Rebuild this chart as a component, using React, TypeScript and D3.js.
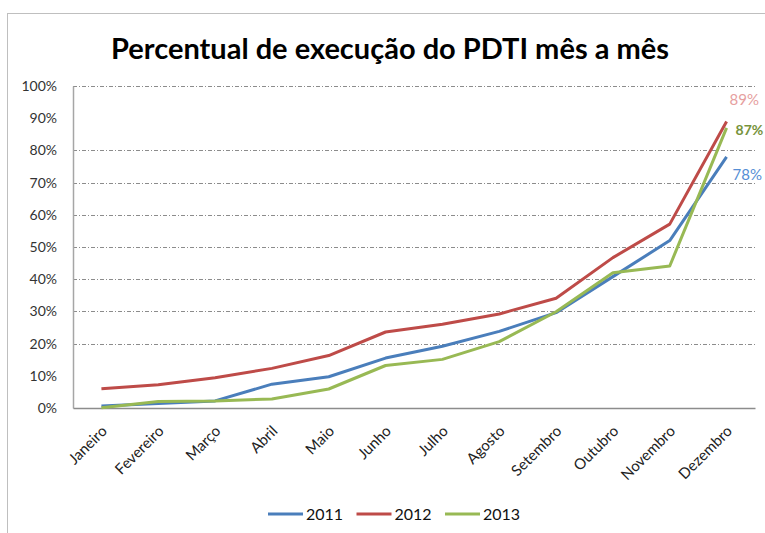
import { useRef, useEffect } from "react";
import * as d3 from "d3";

const months = [
  "Janeiro", "Fevereiro", "Março", "Abril", "Maio", "Junho",
  "Julho", "Agosto", "Setembro", "Outubro", "Novembro", "Dezembro",
];
const years = ["2011", "2012", "2013"];
const values2011 = [0.6, 1.4, 2.2, 7.4, 9.7, 15.5, 19.2, 23.8, 29.6, 40.8, 52, 78];
const values2012 = [6.0, 7.2, 9.4, 12.3, 16.3, 23.6, 26, 29.2, 34.1, 46.7, 57.1, 89];
const values2013 = [0.1, 2.0, 2.2, 2.8, 5.9, 13.2, 15.1, 20.6, 29.9, 42, 44.1, 87];
const yTicks = [0, 10, 20, 30, 40, 50, 60, 70, 80, 90, 100];
const gridTicks = [20, 30, 40, 50, 60, 70, 80, 100];

const W = 765;
const H = 533;
const MARGIN = { top: 86, right: 10, bottom: 125, left: 73 };
const COLORS = ["#4A7EBB", "#BE4B48", "#98B954"];
const LABEL_COLORS = ["#558ED5", "#E6A0A0", "#77933C"];
const FONT = "Lato, 'Open Sans', sans-serif";

export default function App() {
  const svgRef = useRef<SVGSVGElement>(null);

  useEffect(() => {
    if (!svgRef.current) return;
    const svg = d3.select(svgRef.current);
    svg.selectAll("*").remove();

    const innerW = W - MARGIN.left - MARGIN.right;
    const innerH = H - MARGIN.top - MARGIN.bottom;

    // chart frame
    svg.append("rect")
      .attr("x", 7.5).attr("y", 13.5)
      .attr("width", W + 20).attr("height", H + 20)
      .attr("fill", "white").attr("stroke", "#BFBFBF");

    svg.append("text")
      .attr("x", 390).attr("y", 59)
      .attr("text-anchor", "middle")
      .style("font-family", FONT).style("font-weight", "bold").style("font-size", "29px")
      .attr("fill", "#000")
      .text("Percentual de execução do PDTI mês a mês");

    const g = svg.append("g").attr("transform", `translate(${MARGIN.left},${MARGIN.top})`);

    const x = d3.scalePoint<string>().domain(months).range([0, innerW]).padding(0.5);
    const y = d3.scaleLinear().domain([0, 100]).range([innerH, 0]);

    // gridlines (dash-dot)
    g.selectAll("line.grid")
      .data(gridTicks)
      .join("line")
      .attr("class", "grid")
      .attr("x1", 0).attr("x2", innerW)
      .attr("y1", (d) => Math.round(y(d)) + 0.5).attr("y2", (d) => Math.round(y(d)) + 0.5)
      .attr("stroke", "#8C8C8C").attr("stroke-width", 1)
      .attr("stroke-dasharray", "4,2,1,2");

    // axes
    const yAxis = g.append("g")
      .call(d3.axisLeft(y).tickValues(yTicks).tickSize(0).tickPadding(16).tickFormat((d) => `${d}%`));
    yAxis.select(".domain").attr("stroke", "#A6A6A6").attr("stroke-width", 1.5);
    yAxis.selectAll("text")
      .attr("fill", "#333").style("font-family", FONT).style("font-size", "14px");

    const xAxis = g.append("g")
      .attr("transform", `translate(0,${innerH})`)
      .call(d3.axisBottom(x).tickSize(0).tickPadding(0));
    xAxis.select(".domain").attr("stroke", "#8C8C8C").attr("stroke-width", 1.5);
    xAxis.selectAll("text")
      .attr("fill", "#222").style("font-family", FONT).style("font-size", "15px")
      .attr("text-anchor", "end")
      .attr("dy", 0)
      .attr("transform", "translate(6,24) rotate(-45)");

    // lines
    const series = [values2011, values2012, values2013];
    const line = d3.line<number>()
      .x((_, i) => x(months[i])!)
      .y((d) => y(d));

    series.forEach((vals, i) => {
      g.append("path")
        .datum(vals)
        .attr("fill", "none")
        .attr("stroke", COLORS[i])
        .attr("stroke-width", 3)
        .attr("stroke-linejoin", "round")
        .attr("d", line);
    });

    // end labels
    const last = months.length - 1;
    const offsets = [
      { dx: 6, dy: 23, bold: false, size: 15 },
      { dx: 3, dy: -16, bold: false, size: 15 },
      { dx: 9, dy: 7, bold: true, size: 14 },
    ];
    series.forEach((vals, i) => {
      g.append("text")
        .attr("x", x(months[last])! + offsets[i].dx)
        .attr("y", y(vals[last]) + offsets[i].dy)
        .attr("fill", LABEL_COLORS[i])
        .style("font-family", FONT).style("font-size", `${offsets[i].size}px`)
        .style("font-weight", offsets[i].bold ? "bold" : "normal")
        .text(`${Math.round(vals[last])}%`);
    });

    // legend
    const legend = svg.append("g").attr("transform", "translate(268,514)");
    years.forEach((yr, i) => {
      const lg = legend.append("g").attr("transform", `translate(${i * 88.5},0)`);
      lg.append("line")
        .attr("x1", 0).attr("x2", 35).attr("y1", 0).attr("y2", 0)
        .attr("stroke", COLORS[i]).attr("stroke-width", 3);
      lg.append("text")
        .attr("x", 38).attr("y", 6)
        .attr("fill", "#111")
        .style("font-family", FONT).style("font-size", "16px")
        .text(yr);
    });
  }, []);

  return (
    <svg
      ref={svgRef}
      width={W}
      height={H}
      style={{ position: "absolute", left: 0, top: 0, background: "white" }}
    />
  );
}
